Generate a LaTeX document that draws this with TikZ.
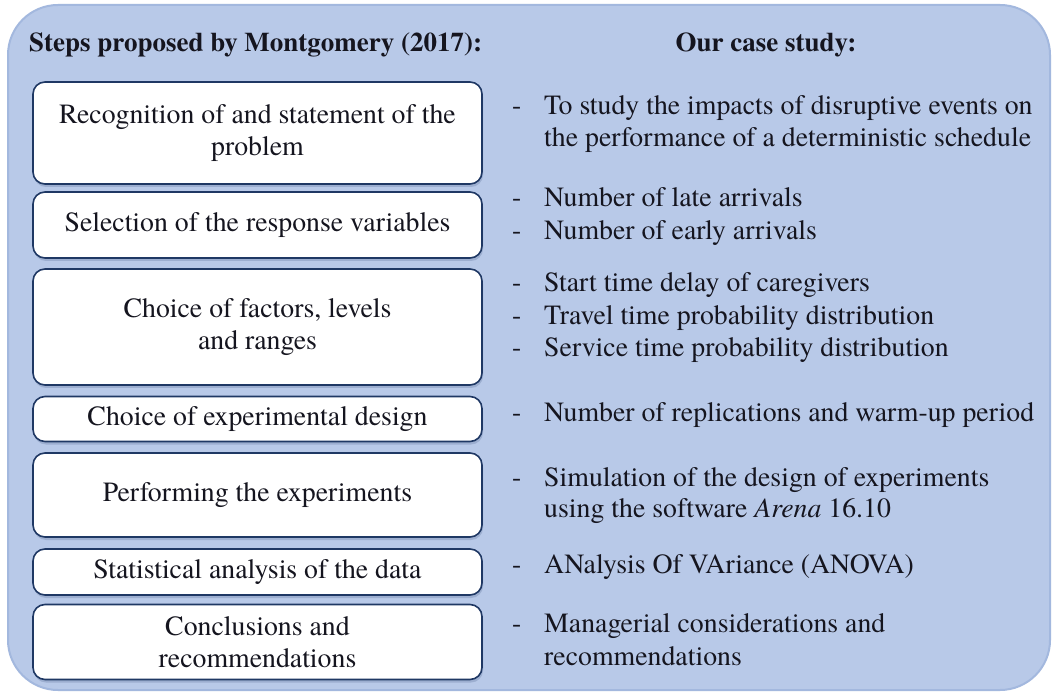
\documentclass[tikz,border=0pt]{standalone}
\usepackage{fontspec}
\IfFontExistsTF{texgyretermes-regular.otf}{%
  \setmainfont{texgyretermes}[Extension=.otf,UprightFont=*-regular,BoldFont=*-bold,ItalicFont=*-italic,BoldItalicFont=*-bolditalic]}{}
\usetikzlibrary{shadows}
\definecolor{bgblue}{HTML}{B8C9E8}
\definecolor{bgedge}{HTML}{A3B8DE}
\definecolor{navy}{HTML}{1F3864}
\definecolor{txt}{HTML}{15151F}
\tikzset{
  stepbox/.style={draw=navy, line width=1.6pt, fill=white, rounded corners=12pt,
    minimum width=449pt, align=center, inner sep=0pt,
    drop shadow={shadow xshift=1pt, shadow yshift=-3pt, fill=navy, opacity=0.18}},
  item/.style={anchor=base west, inner sep=0pt, text=txt},
  dashmark/.style={anchor=base west, inner sep=0pt, text=txt},
  header/.style={anchor=base, inner sep=0pt, text=txt, font=\fontsize{27}{32}\selectfont\bfseries}
}
\begin{document}
\begin{tikzpicture}[x=1pt,y=-1pt, font=\fontsize{27.8}{32.5}\selectfont, every node/.append style={text=txt}]
\useasboundingbox (0,0) rectangle (1052,692);
\fill[white] (0,0) rectangle (1052,692);
\draw[fill=bgblue, draw=bgedge, line width=2pt, rounded corners=50pt] (8,5) rectangle (1050,690);

\node[header, anchor=base west] (h1) at (29,52) {Steps proposed by Montgomery (2017):};
\node[header] (h2) at (766,52) {Our case study:};

\node[stepbox, minimum height=102pt] (s1) at (257.5,133) {Recognition of and statement of the\\problem};
\node[stepbox, minimum height=66pt] (s2) at (257.5,225) {Selection of the response variables};
\node[stepbox, minimum height=116pt] (s3) at (257.5,327) {Choice of factors, levels\\and ranges};
\node[stepbox, minimum height=45pt] (s4) at (257.5,419) {Choice of experimental design};
\node[stepbox, minimum height=84pt] (s5) at (257.5,495) {Performing the experiments};
\node[stepbox, minimum height=46pt] (s6) at (257.5,572) {Statistical analysis of the data};
\node[stepbox, minimum height=75pt] (s7) at (257.5,642) {Conclusions and\\recommendations};

\node[dashmark] (d1) at (512,115) {-};
\node[item] (r1a) at (544,115) {To study the impacts of disruptive events on};
\node[item] (r1b) at (544,147) {the performance of a deterministic schedule};
\node[dashmark] (d2a) at (512,207) {-};
\node[item] (r2a) at (544,207) {Number of late arrivals};
\node[dashmark] (d2b) at (512,240) {-};
\node[item] (r2b) at (544,240) {Number of early arrivals};
\node[dashmark] (d3a) at (512,292) {-};
\node[item] (r3a) at (544,292) {Start time delay of caregivers};
\node[dashmark] (d3b) at (512,325) {-};
\node[item] (r3b) at (544,325) {Travel time probability distribution};
\node[dashmark] (d3c) at (512,357) {-};
\node[item] (r3c) at (544,357) {Service time probability distribution};
\node[dashmark] (d4) at (512,421) {-};
\node[item] (r4) at (544,421) {Number of replications and warm-up period};
\node[dashmark] (d5) at (512,486) {-};
\node[item] (r5a) at (544,486) {Simulation of the design of experiments};
\node[item] (r5b) at (544,517) {using the software \textit{Arena} 16.10};
\node[dashmark] (d6) at (512,573) {-};
\node[item] (r6) at (544,573) {ANalysis Of VAriance (ANOVA)};
\node[dashmark] (d7) at (512,632) {-};
\node[item] (r7a) at (544,632) {Managerial considerations and};
\node[item] (r7b) at (544,665) {recommendations};
\end{tikzpicture}
\end{document}
